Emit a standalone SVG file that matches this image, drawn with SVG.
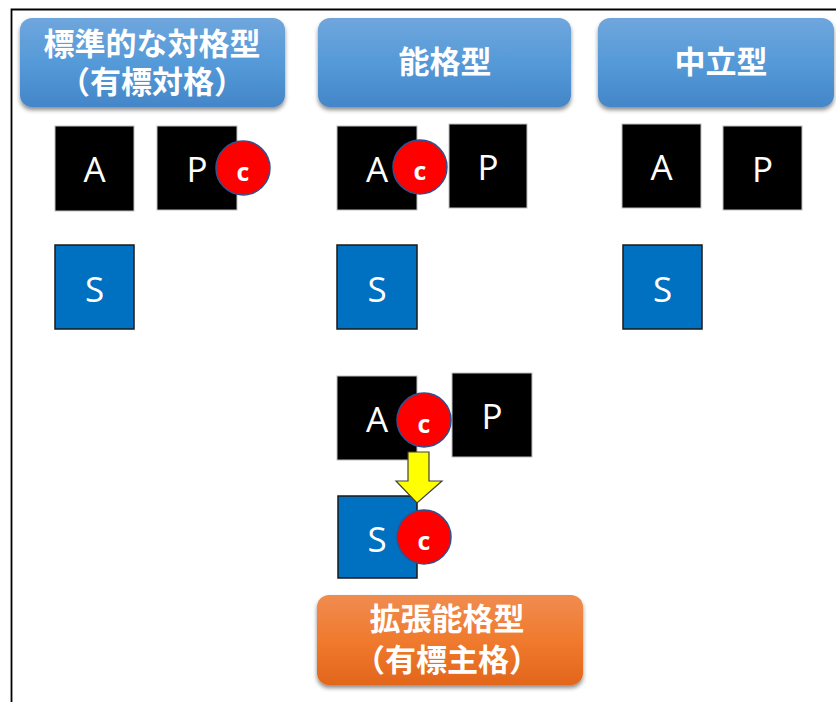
<svg xmlns="http://www.w3.org/2000/svg" width="836" height="702" viewBox="0 0 836 702">
<style>
.hdr{font-family:"Noto Sans CJK JP","Noto Sans CJK SC",sans-serif;font-weight:bold;font-size:31px;fill:#fff;text-anchor:middle}
.blk{fill:#000;stroke:#bfbfbf;stroke-width:1}
.sbj{fill:#0070c0;stroke:#1a1a1a;stroke-width:1.5}
.lt{font-family:"Open Sans","Noto Sans",sans-serif;font-size:35px;fill:#fff;text-anchor:middle}
.cc{fill:#ff0000;stroke:#2f528f;stroke-width:1.5}
.ct{font-family:"Open Sans","Noto Sans",sans-serif;font-weight:bold;font-size:25px;fill:#fff;text-anchor:middle}
</style>
<defs>
<linearGradient id="gb" x1="0" y1="0" x2="0" y2="1">
<stop offset="0" stop-color="#6fa6dd"/>
<stop offset="0.5" stop-color="#559ad8"/>
<stop offset="1" stop-color="#4386c9"/>
</linearGradient>
<linearGradient id="go" x1="0" y1="0" x2="0" y2="1">
<stop offset="0" stop-color="#f08c50"/>
<stop offset="0.5" stop-color="#f07a2e"/>
<stop offset="1" stop-color="#e2661c"/>
</linearGradient>
<filter id="sh" x="-10%" y="-20%" width="120%" height="150%">
<feDropShadow dx="0" dy="3" stdDeviation="2" flood-color="#000" flood-opacity="0.45"/>
</filter>
</defs>
<rect width="836" height="702" fill="#fff"/>
<g id="frame" fill="none" stroke="#000" stroke-width="1.8">
<path d="M11.5,702 V9.5 H836"/>
</g>
<g id="h-accusative">
<rect x="20" y="18" width="265" height="89" rx="12" fill="url(#gb)" filter="url(#sh)"/>
<text class="hdr" x="152" y="55">標準的な対格型</text>
<text class="hdr" x="152" y="93">（有標対格）</text>
</g>
<g id="h-ergative">
<rect x="318" y="18" width="253" height="89" rx="12" fill="url(#gb)" filter="url(#sh)"/>
<text class="hdr" x="445" y="73">能格型</text>
</g>
<g id="h-neutral">
<rect x="598" y="18" width="236" height="89" rx="12" fill="url(#gb)" filter="url(#sh)"/>
<text class="hdr" x="721" y="73">中立型</text>
</g>
<g id="h-extended">
<rect x="317" y="595" width="266" height="90" rx="12" fill="url(#go)" filter="url(#sh)"/>
<text class="hdr" x="447" y="630">拡張能格型</text>
<text class="hdr" x="447" y="671">（有標主格）</text>
</g>
<g id="c1-A"><rect class="blk" x="55" y="126" width="79" height="85"/><text class="lt" x="94.5" y="182">A</text></g>
<g id="c1-P"><rect class="blk" x="157" y="126" width="80" height="84"/><text class="lt" x="197" y="182">P</text>
<circle class="cc" cx="243" cy="168" r="27"/><text class="ct" x="243" y="181">c</text></g>
<g id="c1-S"><rect class="sbj" x="55" y="245" width="79" height="84"/><text class="lt" x="94.5" y="302">S</text></g>
<g id="c2-A"><rect class="blk" x="337" y="126" width="80" height="84"/><text class="lt" x="377" y="182">A</text>
<circle class="cc" cx="420" cy="167" r="27"/><text class="ct" x="420" y="180">c</text></g>
<g id="c2-P"><rect class="blk" x="449" y="124" width="78" height="84"/><text class="lt" x="488" y="180">P</text></g>
<g id="c2-S"><rect class="sbj" x="337" y="245" width="80" height="84"/><text class="lt" x="377" y="302">S</text></g>
<g id="c3-A"><rect class="blk" x="622" y="124" width="79" height="84"/><text class="lt" x="661.5" y="180">A</text></g>
<g id="c3-P"><rect class="blk" x="723" y="126" width="79" height="84"/><text class="lt" x="762.5" y="182">P</text></g>
<g id="c3-S"><rect class="sbj" x="623" y="245" width="79" height="84"/><text class="lt" x="662.5" y="302">S</text></g>
<g id="e-A"><rect class="blk" x="337" y="376" width="80" height="84"/><text class="lt" x="377" y="432">A</text></g>
<g id="e-P"><rect class="blk" x="452" y="373" width="80" height="84"/><text class="lt" x="492" y="429">P</text></g>
<g id="e-S"><rect class="sbj" x="338" y="496" width="79" height="82"/><text class="lt" x="377" y="552">S</text></g>
<g id="connectors">
<path d="M408,452 H429 V481 H442 L417,503 L396,481 H408 Z" fill="#ffff00" stroke="#404040" stroke-width="1.2"/>
</g>
<g id="e-cA"><circle class="cc" cx="424" cy="420" r="27"/><text class="ct" x="424" y="433">c</text></g>
<g id="e-cS"><circle class="cc" cx="424" cy="537" r="27"/><text class="ct" x="424" y="550">c</text></g>
</svg>
